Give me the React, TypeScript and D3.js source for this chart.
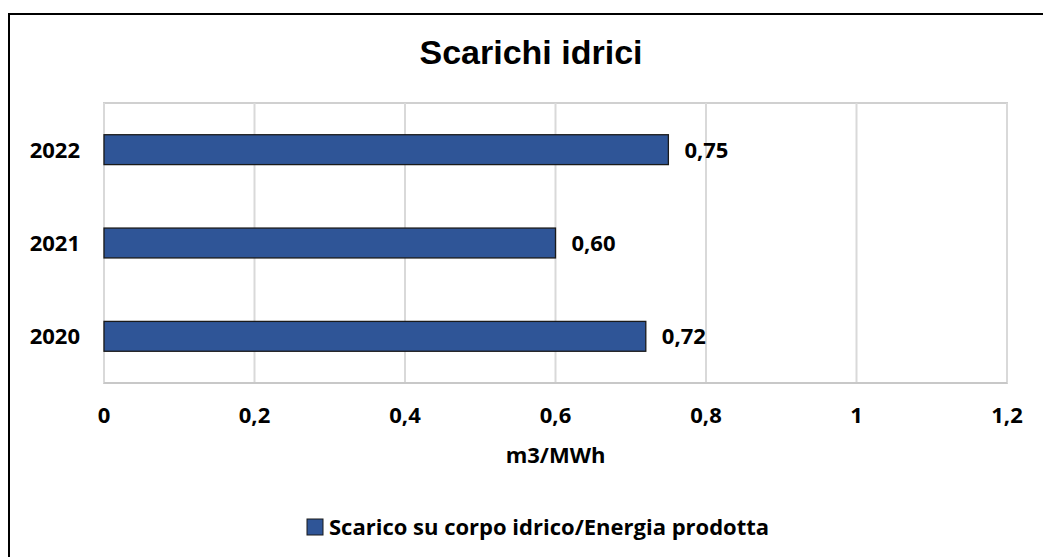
import React from "react";
import * as d3 from "d3";

const categories = ["2022", "2021", "2020"];
const values = [0.75, 0.6, 0.72];
const valueLabels = ["0,75", "0,60", "0,72"];
const xTicks = [0, 0.2, 0.4, 0.6, 0.8, 1, 1.2];
const title = "Scarichi idrici";
const xAxisTitle = "m3/MWh";
const seriesName = "Scarico su corpo idrico/Energia prodotta";

const W = 1043;
const H = 557;
const BAR_COLOR = "#2F5597";
const LABEL_FONT = "'Open Sans', Lato, sans-serif";
const FS = 22;

export default function App() {
  const x = d3.scaleLinear().domain([0, 1.2]).range([104, 1007]);
  const y = d3.scaleBand<string>().domain(categories).range([103, 383]).paddingInner(0.68).paddingOuter(0.34);
  const fmt = (v: number) => String(v).replace(".", ",");
  const [x0, x1] = x.range();
  const [y0, y1] = y.range();

  return (
    <svg width={W} height={H} style={{ position: "absolute", left: 0, top: 0, background: "#fff" }}>
      <rect x={0} y={0} width={W} height={H} fill="#fff" />
      {/* outer chart border (top & left visible) */}
      <line x1={9} y1={14} x2={W} y2={14} stroke="#000" strokeWidth={2} />
      <line x1={9} y1={13} x2={9} y2={H} stroke="#000" strokeWidth={2} />

      <text x={531} y={64} textAnchor="middle" fontFamily="'Liberation Sans', Arial, sans-serif" fontWeight="bold" fontSize={34} fill="#000">
        {title}
      </text>

      {/* plot area border and gridlines */}
      <rect x={x0} y={y0} width={x1 - x0} height={y1 - y0} fill="none" stroke="#d0d0d0" strokeWidth={2} />
      {xTicks.map((t) => (
        <line key={t} x1={x(t)} x2={x(t)} y1={y0} y2={y1} stroke="#d9d9d9" strokeWidth={2} />
      ))}
      <line x1={x0} x2={x1} y1={y1} y2={y1} stroke="#c8c8c8" strokeWidth={2} />

      {/* bars */}
      {categories.map((c, i) => (
        <g key={c}>
          <rect
            x={x(0)}
            y={y(c)!}
            width={x(values[i]) - x(0)}
            height={y.bandwidth()}
            fill={BAR_COLOR}
            stroke="#1a1a1a"
            strokeWidth={1.3}
          />
          <text
            x={x(values[i]) + 16}
            y={y(c)! + y.bandwidth() / 2 + 8}
            fontFamily={LABEL_FONT}
            fontWeight="bold"
            fontSize={FS}
            fill="#000"
          >
            {valueLabels[i]}
          </text>
          <text
            x={80}
            y={y(c)! + y.bandwidth() / 2 + 8}
            textAnchor="end"
            fontFamily={LABEL_FONT}
            fontWeight="bold"
            fontSize={FS}
            fill="#000"
          >
            {c}
          </text>
        </g>
      ))}

      {/* x tick labels */}
      {xTicks.map((t) => (
        <text key={t} x={x(t)} y={423} textAnchor="middle" fontFamily={LABEL_FONT} fontWeight="bold" fontSize={FS} fill="#000">
          {fmt(t)}
        </text>
      ))}

      <text x={(x0 + x1) / 2} y={463} textAnchor="middle" fontFamily={LABEL_FONT} fontWeight="bold" fontSize={FS} fill="#000">
        {xAxisTitle}
      </text>

      {/* legend */}
      <rect x={307} y={519} width={16} height={16} fill={BAR_COLOR} stroke="#1a1a1a" strokeWidth={1} />
      <text x={329} y={535} fontFamily={LABEL_FONT} fontWeight="bold" fontSize={FS} fill="#000">
        {seriesName}
      </text>
    </svg>
  );
}
